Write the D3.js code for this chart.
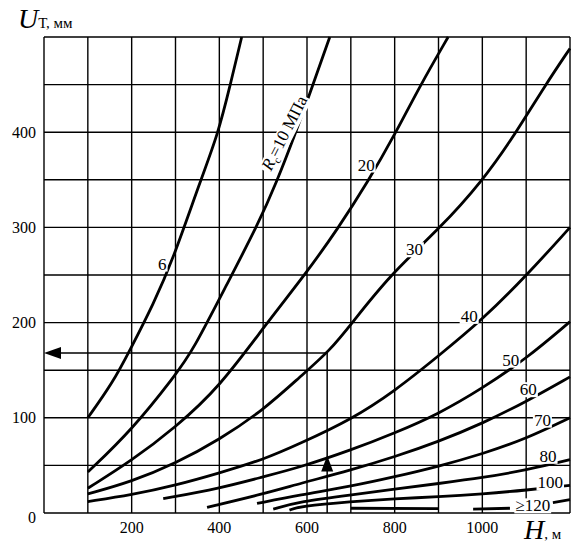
<!DOCTYPE html>
<html><head><meta charset="utf-8">
<script src="https://cdn.jsdelivr.net/npm/d3@7"></script>
<style>
body{margin:0;background:#fff}
text{font-family:"Liberation Serif","DejaVu Serif",serif;fill:#000}
</style></head>
<body><svg id="chart" width="582" height="545"></svg>
<script>
// H, m  vs  U, mm for each Rc (MPa)
var c6   = [[100,100],[157,137],[196,171],[250,220],[294,266],[356,348],[397,398],[424,448],[451,500]];
var c10  = [[100,43],[200,87],[300,145],[340,171],[417,240],[488,303],[531,348],[573,398],[613,449],[652,500]];
var c20  = [[100,26],[200,55],[300,90],[400,132],[509,200],[595,250],[671,299],[739,348],[801,398],[858,449],[922,500]];
var c30  = [[100,20],[200,33],[300,52],[400,77],[500,108],[584,143],[653,171],[700,198],[789,250],[903,299],[999,348],[1075,398],[1143,449],[1200,488]];
var c40  = [[100,12],[200,19],[300,29],[400,42],[500,56],[584,73],[700,98],[800,128],[900,165],[1000,203],[1102,250],[1200,300]];
var c50  = [[272,15],[402,26],[500,38],[584,48],[700,66],[800,84],[900,104],[1000,131],[1100,162],[1200,201]];
var c60  = [[372,6],[500,20],[584,31],[700,45],[800,59],[900,75],[1000,94],[1100,117],[1200,143]];
var c70  = [[486,10],[584,19],[700,28],[800,38],[900,49],[1000,62],[1100,78],[1200,100]];
var c80  = [[523,4],[584,12],[700,19],[800,25],[900,31],[1000,37],[1100,45],[1200,56]];
var c100 = [[560,3],[584,7],[700,12],[800,15],[900,17],[1000,20],[1100,24],[1200,29]];
var c120a = [[700,5],[900,4.5]];
var c120b = [[979,4],[1063,5]];
var c120c = [[1161,11],[1200,14]];
var curves = [c6, c10, c20, c30, c40, c50, c60, c70, c80, c100, c120a, c120b, c120c];

var xTicks = [200, 400, 600, 800, 1000];
var yTicks = [0, 100, 200, 300, 400];
var xGrid = d3.range(100, 1201, 100);
var yGrid = d3.range(0, 501, 50);

// curve labels: [H, U, text]
var labels = [[270,262,"6"],[735,366,"20"],[845,277,"30"],[970,207,"40"],[1065,161,"50"],[1105,130,"60"],[1137,98,"70"],[1150,60,"80"],[1155,32,"100"],[1115,8,"≥120"]];
var readH = 646, readU = 168; // example reading

var svg = d3.select("#chart");
var x = d3.scaleLinear().domain([0, 1200]).range([44, 570]);
var y = d3.scaleLinear().domain([0, 500]).range([513, 37]);

var grid = svg.append("g").attr("stroke", "#000").attr("stroke-width", 1.4);
grid.selectAll(".v").data(xGrid).enter().append("line")
    .attr("x1", function(d){ return x(d); }).attr("x2", function(d){ return x(d); })
    .attr("y1", y(0)).attr("y2", y(500));
grid.selectAll(".h").data(yGrid).enter().append("line")
    .attr("y1", function(d){ return y(d); }).attr("y2", function(d){ return y(d); })
    .attr("x1", x(0)).attr("x2", x(1200));
grid.append("line").attr("x1", x(0)).attr("x2", x(0)).attr("y1", y(0)).attr("y2", y(500));

var line = d3.line()
    .x(function(d){ return x(d[0]); })
    .y(function(d){ return y(d[1]); })
    .curve(d3.curveBasis);

svg.append("g").selectAll("path").data(curves).enter().append("path")
    .attr("d", line)
    .attr("fill", "none").attr("stroke", "#000").attr("stroke-width", 2.8);

// reading lines with arrows
svg.append("line").attr("x1", x(readH)).attr("x2", x(0) + 10)
    .attr("y1", y(readU)).attr("y2", y(readU)).attr("stroke", "#000").attr("stroke-width", 1.5);
svg.append("line").attr("x1", x(readH)).attr("x2", x(readH))
    .attr("y1", y(readU)).attr("y2", y(0)).attr("stroke", "#000").attr("stroke-width", 1.5);
svg.append("path")
    .attr("d", "M" + x(0) + "," + y(readU) + "l17,-6l0,12z");
svg.append("path")
    .attr("d", "M" + x(readH) + "," + (y(52) - 8) + "l-6,16l12,0z");

// labels with white background
labels.forEach(function(l) {
    var g = svg.append("g");
    var t = g.append("text").attr("x", x(l[0])).attr("y", y(l[1]))
        .attr("text-anchor", "middle").attr("dy", "0.35em")
        .attr("font-size", 17).text(l[2]);
    var b = t.node().getBBox();
    g.insert("rect", "text").attr("x", b.x - 1).attr("y", b.y + 2)
        .attr("width", b.width + 2).attr("height", b.height - 4).attr("fill", "#fff");
});

// Rc = 10 MPa rotated label
var rg = svg.append("g").attr("transform", "translate(" + 284 + "," + 133 + ") rotate(-63)");
var rt = rg.append("text").attr("text-anchor", "middle").attr("dy", "0.35em").attr("font-size", 17);
rt.append("tspan").attr("font-style", "italic").text("R");
rt.append("tspan").attr("font-size", 11).attr("dy", 4).text("c");
rt.append("tspan").attr("dy", -4).text("=10 МПа");
var rb = rt.node().getBBox();
rg.insert("rect", "text").attr("x", rb.x - 1).attr("y", rb.y + 2)
    .attr("width", rb.width + 2).attr("height", rb.height - 4).attr("fill", "#fff");

// tick labels
svg.selectAll(".yt").data(yTicks).enter().append("text")
    .attr("x", 36).attr("y", function(d){ return y(d) + (d === 0 ? 4 : 0); })
    .attr("dy", "0.35em").attr("text-anchor", "end").attr("font-size", 16)
    .text(function(d){ return d; });
svg.selectAll(".xt").data(xTicks).enter().append("text")
    .attr("x", function(d){ return x(d); }).attr("y", 533)
    .attr("text-anchor", "middle").attr("font-size", 16)
    .text(function(d){ return d; });

// axis titles
var ut = svg.append("text").attr("x", 18).attr("y", 28);
ut.append("tspan").attr("font-style", "italic").attr("font-size", 28).text("U");
ut.append("tspan").attr("font-size", 15).text("Т, мм");
var ht = svg.append("text").attr("x", 524).attr("y", 539);
ht.append("tspan").attr("font-style", "italic").attr("font-size", 28).text("H");
ht.append("tspan").attr("font-size", 15).text(", м");
</script>
</body></html>
